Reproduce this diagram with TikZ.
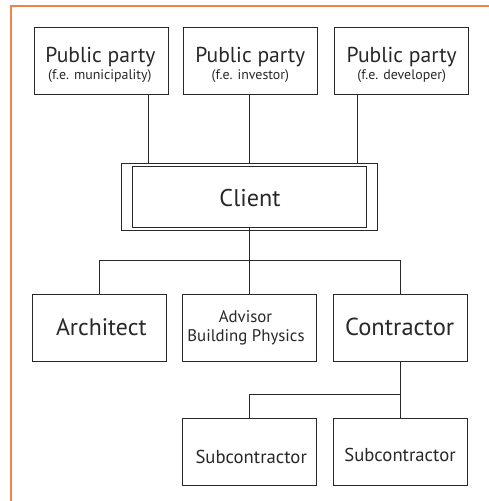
\documentclass[tikz,border=0pt]{standalone}
\usepackage{fontspec}
\setmainfont{PT Sans}
\definecolor{frameorange}{RGB}{238,132,76}
\definecolor{ink}{RGB}{40,40,40}
\begin{document}
\begin{tikzpicture}[x=1pt,y=-1pt,
  box/.style={draw=ink, line width=1pt, inner sep=0pt,
    minimum width=134pt, minimum height=67pt},
  label/.style={anchor=base, inner sep=0pt, text=ink},
  link/.style={draw=ink, line width=1pt},
  frame/.style={draw=frameorange, line width=2pt}]
\useasboundingbox (0,0) rectangle (488,501);
\fill[white] (0,0) rectangle (488,501);
% page frame
\draw[frame] (490,5.5) -- (11,5.5) -- (11,503);

% public parties
\node[box] (pp1) at (101,61.3) {};
\node[box] (pp2) at (250.8,61.3) {};
\node[box] (pp3) at (401.3,61.3) {};
\node[label, font=\fontsize{21.6}{24}\selectfont] (pp1a) at (100.5,62.7) {Public party};
\node[label, font=\fontsize{13.9}{16}\selectfont] (pp1b) at (99.8,79) {(f.e. municipality)};
\node[label, font=\fontsize{21.6}{24}\selectfont] (pp2a) at (250.3,62.7) {Public party};
\node[label, font=\fontsize{13.9}{16}\selectfont] (pp2b) at (250.3,79) {(f.e. investor)};
\node[label, font=\fontsize{21.6}{24}\selectfont] (pp3a) at (401.7,62.7) {Public party};
\node[label, font=\fontsize{13.9}{16}\selectfont] (pp3b) at (401.7,79) {(f.e. developer)};

% client, double frame
\node[box, minimum width=256pt, minimum height=66.7pt] (outer) at (249.7,196.7) {};
\node[box, minimum width=234pt, minimum height=61.3pt] (client) at (249.7,196.7) {};
\node[label, font=\fontsize{24.2}{26}\selectfont] (clienttext) at (250,206.7) {Client};

% second level
\node[box] (arch) at (99.7,327.7) {};
\node[box] (adv) at (249.7,327.7) {};
\node[box] (contr) at (400,327.7) {};
\node[label, font=\fontsize{23.8}{26}\selectfont] (archtext) at (101.3,335.2) {Architect};
\node[label, font=\fontsize{16.8}{19}\selectfont] (adva) at (245.5,322.3) {Advisor};
\node[label, font=\fontsize{16.8}{19}\selectfont] (advb) at (246,341.7) {Building Physics};
\node[label, font=\fontsize{24.5}{26}\selectfont] (contrtext) at (399.7,335.5) {Contractor};

% subcontractors
\node[box] (sub1) at (249.7,452.2) {};
\node[box] (sub2) at (400,452.2) {};
\node[label, font=\fontsize{18.7}{20}\selectfont] (sub1text) at (251.2,463.3) {Subcontractor};
\node[label, font=\fontsize{18.7}{20}\selectfont] (sub2text) at (400,461.7) {Subcontractor};

% junction points
\coordinate (d1) at (148.3,0);
\coordinate (d3) at (357.7,0);
\coordinate (bus1) at (249.7,260.7);
\coordinate (bus2) at (400,394.3);

% connectors
\draw[link] (pp1.south -| d1) -- (outer.north -| d1);
\draw[link] (pp2.south -| client.north) -- (outer.north);
\draw[link] (pp3.south -| d3) -- (outer.north -| d3);
\draw[link] (client.south) -- (adv.north);
\draw[link] (arch.north) |- (bus1) -| (contr.north);
\draw[link] (contr.south) -- (sub2.north);
\draw[link] (sub1.north) |- (bus2);
\end{tikzpicture}
\end{document}
